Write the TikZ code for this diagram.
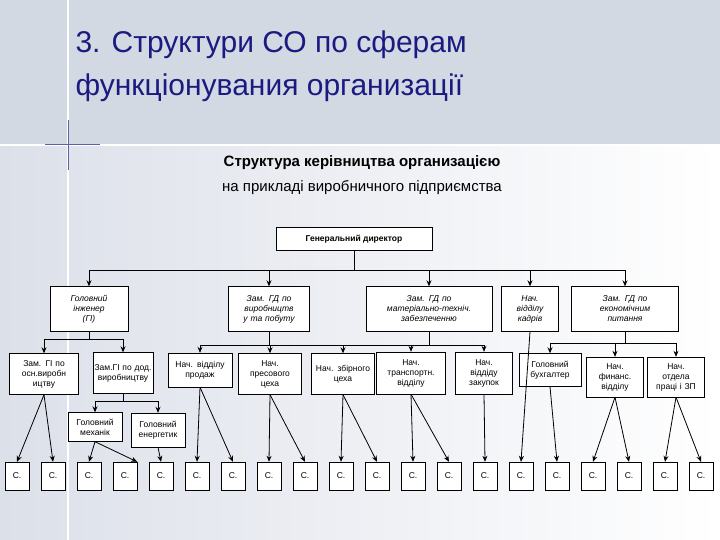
\documentclass[tikz,border=0pt]{standalone}
\usepackage{fontspec}
\setmainfont{Liberation Sans}
\usetikzlibrary{arrows.meta}
\definecolor{topbg}{HTML}{D3D9E3}
\definecolor{lowbg}{HTML}{DCE0E9}
\definecolor{titleblue}{HTML}{1A1A80}
\tikzset{
  box/.style={draw, fill=white, align=center, inner sep=1pt, font=\fontsize{8.5}{10}\selectfont},
  ibox/.style={box, font=\fontsize{8.5}{10}\selectfont\itshape},
  cbox/.style={draw, fill=white, minimum width=24pt, minimum height=28pt, inner sep=0pt, font=\fontsize{8.5}{9}\selectfont},
  arr/.style={thick, -{Stealth[length=6pt,width=5pt]}},
  ln/.style={thick}
}
\newcommand{\bx}[6]{\node[#1, minimum width=#4pt, minimum height=#5pt, text width=#4pt-3pt] (#2) at (#3) {#6};}
\begin{document}
\begin{tikzpicture}[x=1pt,y=-1pt]
\useasboundingbox (0,0) rectangle (720,540);
% background
\fill[topbg] (0,0) rectangle (720,145);
\shade[left color=lowbg, right color=white] (0,145) rectangle (720,540);
\draw[white, line width=2pt] (68,0) -- (68,540);
\draw[white, line width=2pt] (0,145) -- (720,145);
\draw[titleblue!70, line width=1pt] (45,145) -- (100,145);
\draw[titleblue!70, line width=1pt] (68,120) -- (68,170);
% titles
\node[anchor=west, text=titleblue, font=\fontsize{30}{32}\selectfont] (t1) at (72,45) {3. Структури СО по сферам};
\node[anchor=west, text=titleblue, font=\fontsize{30}{32}\selectfont] (t2) at (72,88) {функціонувания организації};
\node[font=\fontsize{15}{17}\bfseries\selectfont] (s1) at (362,163) {Структура керівництва организацією};
\node[font=\fontsize{15}{17}\selectfont] (s2) at (362,188) {на прикладі виробничного підприємства};
% level 1
\node[box, font=\fontsize{8.5}{10}\bfseries\selectfont, minimum width=156pt, minimum height=23pt] (gd) at (354,239) {Генеральний директор};
% level 2
\bx{ibox}{gi}{89,309}{78}{45}{Головний\\інженер\\(ГІ)}
\bx{ibox}{zv}{269,309}{81}{45}{Зам. ГД по виробництв у та побуту}
\bx{ibox}{zm}{429,309}{126}{45}{Зам. ГД по\\матеріально-технiч. забезпеченню}
\bx{ibox}{nk}{530,309}{57}{45}{Нач.\\відділу\\кадрів}
\bx{ibox}{ze}{625,309}{107}{45}{Зам. ГД по\\економічним\\питання}
% level 3
\bx{box}{osn}{44,374}{69}{41}{Зам. ГІ по осн.виробн ицтву}
\bx{box}{dod}{123,373}{60}{41}{Зам.ГІ по дод. виробництву}
\bx{box}{prod}{200,370}{64}{34}{Нач. відділу продаж}
\bx{box}{pres}{270,374}{63}{41}{Нач.\\пресового\\цеха}
\bx{box}{zb}{343,374}{63}{41}{Нач. збірного цеха}
\bx{box}{tr}{411,373}{69}{42}{Нач.\\транспортн.\\відділу}
\bx{box}{zak}{484,373}{57}{42}{Нач.\\віддіду\\закупок}
\bx{box}{bux}{550,370}{62}{33}{Головний бухгалтер}
\bx{box}{fin}{615,377}{57}{40}{Нач.\\финанс.\\відділу}
\bx{box}{pz}{676,377}{57}{40}{Нач.\\отдела\\праці і ЗП}
% level 4
\bx{box}{mex}{95,427}{54}{29}{Головний механік}
\bx{box}{en}{158,430}{54}{34}{Головний енергетик}
% C boxes
\foreach \i in {0,...,19} {
  \node[cbox] (c\i) at ({17+36*\i},476) {С.};
}
% connectors level 1 -> 2
\coordinate (b1) at (0,270);
\draw[ln] (gd.south) -- (gd.south |- b1);
\draw[ln] (gi.north |- b1) -- (ze.north |- b1);
\foreach \n in {gi,zv,zm,nk,ze} { \draw[arr] (\n.north |- b1) -- (\n.north); }
% GI
\coordinate (b2) at (0,339);
\draw[ln] (gi.south) -- (gi.south |- b2);
\draw[ln] (osn.north |- b2) -- (dod.north |- b2);
\draw[arr] (osn.north |- b2) -- (osn.north);
\draw[arr] (dod.north |- b2) -- (dod.north);
% ZV and ZM
\coordinate (b3) at (0,345);
\draw[ln] (zv.south) -- (zv.south |- b3);
\draw[ln] (zm.south) -- (zm.south |- b3);
\draw[ln] (prod.north |- b3) -- (zak.north |- b3);
\foreach \n in {prod,pres,zb,tr,zak} { \draw[arr] (\n.north |- b3) -- (\n.north); }
% ZE
\coordinate (b4) at (0,343);
\draw[ln] (ze.south) -- (ze.south |- b4);
\draw[ln] (bux.north |- b4) -- (pz.north |- b4);
\foreach \n in {bux,fin,pz} { \draw[arr] (\n.north |- b4) -- (\n.north); }
% dod -> mex, en
\coordinate (b5) at (0,401);
\draw[ln] (dod.south) -- (dod.south |- b5);
\draw[ln] (mex.north |- b5) -- (en.north |- b5);
\draw[arr] (mex.north |- b5) -- (mex.north);
\draw[arr] (en.north |- b5) -- (en.north);
% to C boxes
\draw[arr] (osn.south) -- (c0.north);
\draw[arr] (osn.south) -- (c1.north);
\draw[arr] (mex.south) -- (c2.north);
\draw[arr] (mex.south) -- (c3.north east);
\draw[arr] (en.south) -- (c4.north);
\draw[arr] (prod.south) -- (c5.north);
\draw[arr] (prod.south) -- (c6.north);
\draw[arr] (pres.south) -- (c7.north);
\draw[arr] (pres.south) -- (c8.north);
\draw[arr] (zb.south) -- (c9.north);
\draw[arr] (zb.south) -- (c10.north);
\draw[arr] (tr.south) -- (c11.north);
\draw[arr] (tr.south) -- (c12.north);
\draw[arr] (zak.south) -- (c13.north);
\draw[arr] (nk.south) -- (c14.north);
\draw[arr] (bux.south) -- (c15.north);
\draw[arr] (fin.south) -- (c16.north);
\draw[arr] (fin.south) -- (c17.north);
\draw[arr] (pz.south) -- (c18.north);
\draw[arr] (pz.south) -- (c19.north);
\end{tikzpicture}
\end{document}
